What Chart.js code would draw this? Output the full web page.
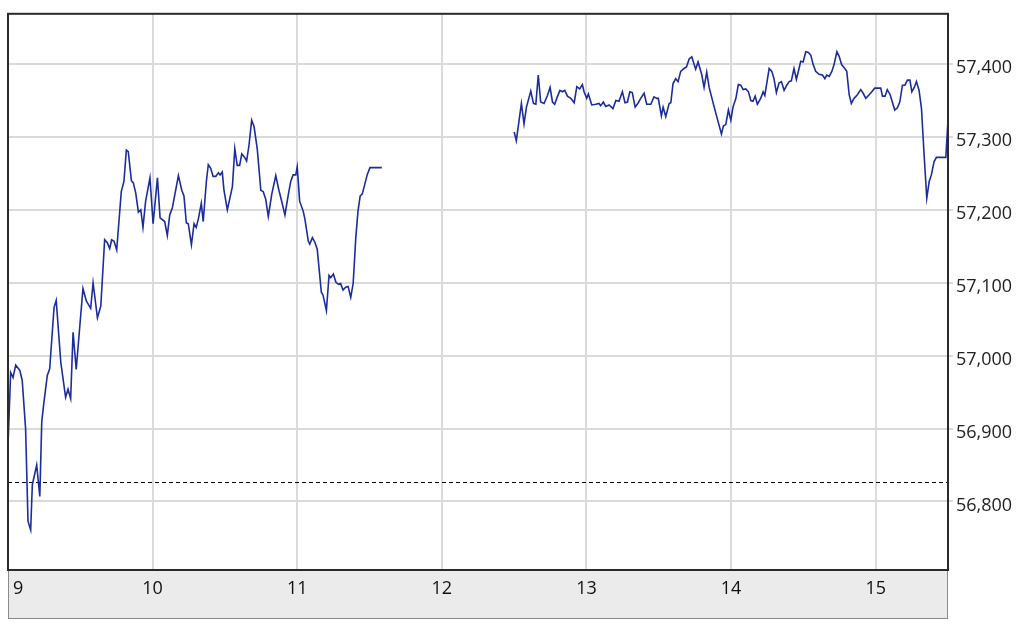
<!DOCTYPE html>
<html>
<head>
<meta charset="utf-8">
<script src="https://cdn.jsdelivr.net/npm/chart.js@4"></script>
<style>
  html, body { margin: 0; padding: 0; background: #fff; }
  #wrap { width: 1024px; height: 629px; }
</style>
</head>
<body>
<div id="wrap"><canvas id="intraday"></canvas></div>
<script>
// minutes after 9:00 and price, morning session
const morningTimes = [0, 1.1, 2.1, 3.2, 4.9, 5.9, 7.3, 8.3, 9.4, 10.1, 11.9, 13.2, 14.0, 14.9, 16.3, 17.3, 19.1, 20.0, 21.9, 23.9,
  24.9, 26.0, 27.0, 28.3, 29.8, 31.1, 32.5, 34.3, 35.3, 37.1, 38.5, 40.1, 41.2, 42.2, 43.0, 44.0, 45.1, 47.0, 48.1, 49.1,
  49.9, 51.2, 52.0, 53.0, 54.1, 55.1, 56.0, 57.1, 58.9, 60.2, 62.0, 63.1, 65.0, 66.1, 67.1, 68.2, 70.7, 72.1, 73.0, 74.0,
  74.8, 76.1, 77.2, 78.1, 79.0, 80.2, 81.0, 82.3, 83.1, 84.1, 85.1, 86.2, 87.3, 88.0, 88.9, 89.6, 91.0, 93.1, 94.1, 95.1,
  96.1, 97.0, 98.2, 99.0, 100.0, 101.1, 102.1, 103.4, 104.9, 105.9, 106.9, 108.0, 109.4, 111.1, 112.4, 113.4, 114.9, 116.3, 117.3, 118.3,
  119.4, 120.0, 121.0, 122.5, 123.2, 124.6, 125.2, 126.3, 127.4, 128.3, 130.0, 130.7, 132.1, 133.2, 133.9, 135.0, 136.0, 137.1, 138.0, 139.0,
  140.1, 141.1, 142.2, 143.2, 144.3, 145.2, 146.1, 147.0, 149.1, 150.2, 155.1];
const morningPrices = [56877, 56977, 56970, 56987, 56980, 56966, 56900, 56773, 56761, 56823, 56850, 56807, 56909, 56936, 56973, 56982, 57066, 57076, 56991, 56943,
  56954, 56941, 57032, 56981, 57041, 57092, 57075, 57065, 57100, 57052, 57068, 57159, 57155, 57147, 57159, 57157, 57145, 57225, 57239, 57282,
  57280, 57240, 57237, 57223, 57197, 57200, 57176, 57212, 57244, 57181, 57244, 57189, 57184, 57165, 57193, 57203, 57247, 57227, 57219, 57182,
  57181, 57152, 57181, 57176, 57188, 57209, 57184, 57239, 57262, 57257, 57246, 57246, 57251, 57248, 57252, 57227, 57200, 57232, 57284, 57261,
  57261, 57277, 57272, 57267, 57289, 57323, 57314, 57284, 57227, 57225, 57215, 57191, 57221, 57247, 57227, 57214, 57193, 57221, 57239, 57248,
  57248, 57259, 57212, 57198, 57187, 57157, 57153, 57162, 57155, 57146, 57087, 57083, 57062, 57110, 57107, 57112, 57101, 57098, 57099, 57090,
  57094, 57095, 57080, 57099, 57162, 57198, 57219, 57222, 57249, 57258, 57258];

// afternoon session
const afternoonTimes = [210.0, 210.9, 213.0, 214.1, 215.1, 216.9, 218.0, 219.0, 220.0, 221.0, 222.4, 223.8, 224.9, 225.9, 226.8, 227.9, 229.0, 230.0, 231.0, 232.1,
  233.5, 234.9, 236.0, 237.2, 238.3, 239.0, 240.1, 240.8, 242.2, 243.9, 245.2, 245.9, 247.0, 248.0, 249.4, 251.0, 252.2, 253.5, 254.9, 256.0,
  257.0, 258.0, 259.0, 260.2, 261.5, 262.5, 263.9, 265.0, 266.7, 268.0, 269.2, 269.8, 271.1, 271.8, 272.9, 274.3, 275.0, 275.9, 277.0, 278.0,
  279.1, 280.5, 281.5, 282.6, 283.7, 285.3, 286.3, 287.8, 288.8, 289.9, 290.9, 293.0, 294.7, 296.0, 296.8, 297.8, 298.9, 299.9, 300.8, 302.0,
  303.0, 304.0, 305.0, 306.1, 307.2, 308.2, 309.1, 310.0, 310.9, 312.3, 313.3, 314.0, 315.8, 316.9, 317.8, 318.8, 319.9, 320.9, 322.0, 323.1,
  324.1, 325.0, 326.1, 327.1, 328.2, 328.9, 329.9, 331.0, 332.1, 333.1, 334.0, 335.1, 336.5, 337.9, 338.9, 339.7, 340.7, 341.8, 342.7, 343.9,
  344.8, 345.9, 347.2, 348.0, 349.0, 349.9, 351.0, 352.4, 353.8, 354.8, 355.9, 357.3, 358.4, 359.6, 360.7, 362.1, 362.8, 363.9, 364.8, 366.0,
  366.9, 367.9, 369.0, 370.0, 371.1, 372.1, 373.2, 374.2, 375.0, 376.0, 376.9, 378.0, 379.0, 380.1, 381.2, 382.2, 383.1, 384.2, 385.2, 389.1,
  390.0];
const afternoonPrices = [57307, 57295, 57346, 57318, 57341, 57363, 57346, 57345, 57385, 57348, 57346, 57357, 57368, 57348, 57345, 57355, 57364, 57362, 57364, 57356,
  57353, 57347, 57369, 57366, 57372, 57362, 57353, 57359, 57344, 57345, 57346, 57343, 57348, 57342, 57344, 57339, 57350, 57349, 57362, 57347,
  57348, 57362, 57361, 57341, 57347, 57353, 57360, 57345, 57345, 57355, 57353, 57353, 57329, 57341, 57328, 57346, 57347, 57373, 57380, 57376,
  57390, 57394, 57396, 57407, 57410, 57393, 57403, 57386, 57368, 57389, 57368, 57341, 57320, 57304, 57315, 57317, 57337, 57323, 57341, 57353,
  57372, 57371, 57365, 57366, 57362, 57350, 57349, 57356, 57345, 57353, 57362, 57357, 57394, 57390, 57380, 57361, 57374, 57376, 57364, 57371,
  57376, 57377, 57394, 57379, 57394, 57404, 57403, 57417, 57416, 57412, 57400, 57390, 57386, 57385, 57380, 57385, 57383, 57390, 57399, 57417,
  57411, 57399, 57394, 57390, 57358, 57346, 57353, 57358, 57365, 57360, 57353, 57358, 57362, 57367, 57367, 57367, 57356, 57356, 57365, 57358,
  57348, 57337, 57340, 57348, 57371, 57371, 57378, 57378, 57362, 57368, 57376, 57364, 57339, 57275, 57216, 57239, 57248, 57266, 57272, 57272,
  57323];

const prevClose = 56826;
const hourLabels = ['9', '10', '11', '12', '13', '14', '15'];

// one line with a gap over the lunch break
const points = morningTimes.map((t, i) => ({ x: t, y: morningPrices[i] }));
points.push({ x: 180, y: null });
afternoonTimes.forEach((t, i) => points.push({ x: t, y: afternoonPrices[i] }));

// grey time band under the plot, hour labels in it, dark frame round the plot
const framePlugin = {
  id: 'frame',
  beforeDraw(chart) {
    const { ctx, chartArea: a } = chart;
    ctx.save();
    ctx.fillStyle = '#ebebeb';
    ctx.fillRect(a.left, a.bottom, a.right - a.left, 48);
    ctx.strokeStyle = '#8a8a8a';
    ctx.lineWidth = 1;
    ctx.strokeRect(a.left + 0.5, a.bottom + 0.5, a.right - a.left - 1, 48);
    ctx.restore();
  },
  afterDraw(chart) {
    const { ctx, chartArea: a, scales } = chart;
    ctx.save();
    ctx.fillStyle = '#111';
    ctx.font = '18px "Open Sans"';
    ctx.textBaseline = 'middle';
    ctx.textAlign = 'center';
    hourLabels.forEach((lab, i) => {
      let x = scales.x.getPixelForValue(i * 60);
      const w = ctx.measureText(lab).width;
      if (x - w / 2 < a.left + 5) x = a.left + 5 + w / 2;
      ctx.fillText(lab, x, a.bottom + 19);
    });
    ctx.strokeStyle = '#2a2a2a';
    ctx.lineWidth = 2;
    ctx.strokeRect(a.left, a.top, a.right - a.left, a.bottom - a.top);
    ctx.restore();
  }
};

new Chart(document.getElementById('intraday'), {
  type: 'line',
  data: {
    datasets: [{
      data: points,
      borderColor: '#1b2c9b',
      borderWidth: 1.6,
      pointRadius: 0,
      tension: 0,
      spanGaps: false
    }, {
      data: [{ x: 0, y: prevClose }, { x: 390, y: prevClose }],
      borderColor: '#000',
      borderWidth: 1,
      borderDash: [4, 3],
      pointRadius: 0
    }]
  },
  options: {
    responsive: true,
    maintainAspectRatio: false,
    animation: false,
    layout: { padding: { left: 8, top: 7, right: 0, bottom: 0 } },
    plugins: { legend: { display: false }, tooltip: { enabled: false } },
    scales: {
      x: {
        type: 'linear',
        min: 0,
        max: 390,
        afterBuildTicks: s => { s.ticks = s.ticks.filter(t => t.value % 60 === 0); },
        afterFit: s => { s.height = 59; },
        ticks: { stepSize: 60, display: false },
        grid: { color: '#dadada', lineWidth: 2, tickLength: 0 },
        border: { display: false }
      },
      y: {
        position: 'right',
        min: 56706,
        max: 57469,
        afterBuildTicks: s => { s.ticks = s.ticks.filter(t => t.value % 100 === 0); },
        afterFit: s => { s.width = 76; },
        ticks: {
          stepSize: 100,
          padding: 3,
          labelOffset: 4,
          color: '#222',
          font: { family: 'Open Sans', size: 18 },
          callback: v => v.toLocaleString('en-US')
        },
        grid: { color: '#dadada', lineWidth: 2, tickLength: 5, tickColor: '#dadada' },
        border: { display: false }
      }
    }
  },
  plugins: [framePlugin]
});
</script>
</body>
</html>
